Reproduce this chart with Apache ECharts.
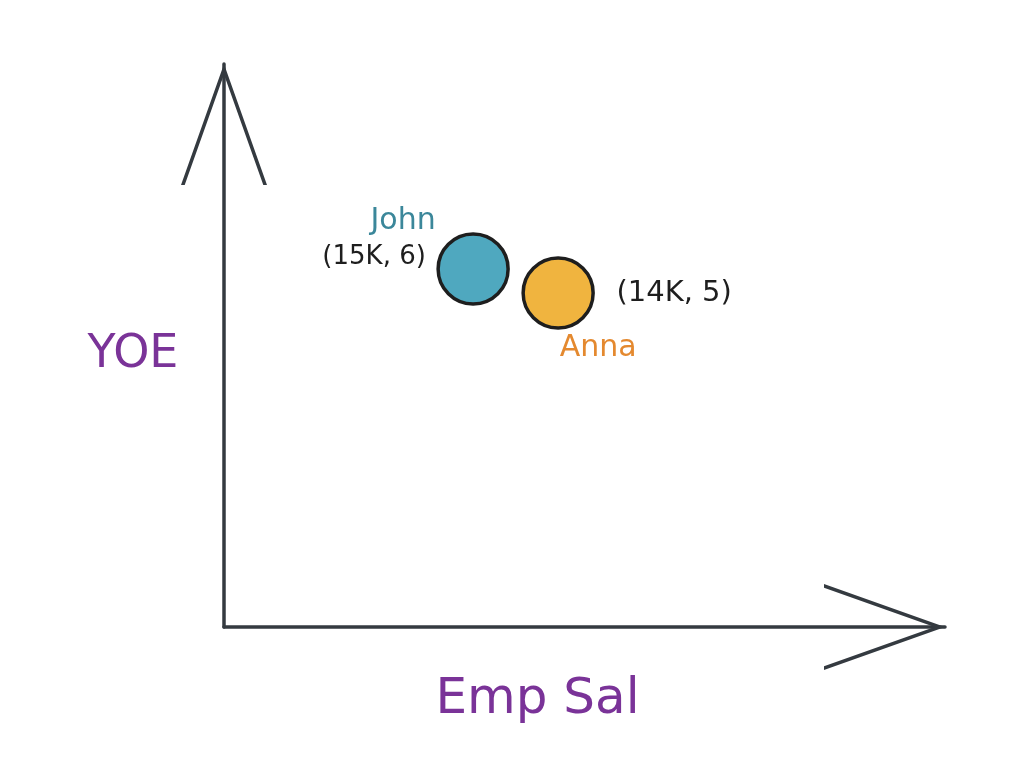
<!DOCTYPE html>
<html><head><meta charset="utf-8">
<script src="https://cdn.jsdelivr.net/npm/echarts@6/dist/echarts.min.js"></script>
<style>html,body{margin:0;padding:0;background:#fff}#chart{width:1018px;height:768px}</style>
</head><body><div id="chart"></div>
<script>
// ---- data ----
const names = ['John', 'Anna'];
const salaryK = [15, 14];
const yoe = [6, 5];
const xAxisName = 'Emp Sal';
const yAxisName = 'YOE';

// ---- styles ----
const FONT = 'DejaVu Sans';
const INK = '#1e1e1e';
const AXIS = '#343a40';
const PURPLE = '#7a3398';
const pointColors = ['#4fa8bf', '#f0b43f'];
const nameColors = ['#3b879a', '#e4892f'];
const coordOffsets = [[-99, -12], [116, 1]];
const coordSizes = [26, 29];
const nameOffsets = [[-70, -48], [40, 55]];

const chevron = 'path://M0 121 L43 0 L86 121 L82.3 121 L43 10.4 L3.7 121 Z';
const axisLine = {
  show: true, onZero: false,
  lineStyle: { color: AXIS, width: 3.5 },
  symbol: ['none', chevron],
  symbolSize: [86, 121],
  symbolOffset: [0, -60.5]
};

const pointData = names.map((n, i) => ({
  name: n,
  value: [salaryK[i], yoe[i]],
  itemStyle: { color: pointColors[i] },
  label: { offset: coordOffsets[i], fontSize: coordSizes[i] }
}));
const nameData = names.map((n, i) => ({
  name: n,
  value: [salaryK[i], yoe[i]],
  label: { offset: nameOffsets[i], color: nameColors[i] }
}));

const chart = echarts.init(document.getElementById('chart'), null, { renderer: 'canvas' });
chart.setOption({
  animation: false,
  backgroundColor: '#ffffff',
  grid: { left: 224, right: 73, top: 64, bottom: 141, containLabel: false },
  xAxis: {
    type: 'value', inverse: true, min: 9.45, max: 17.93,
    axisLine: axisLine, axisTick: { show: false }, axisLabel: { show: false }, splitLine: { show: false },
    name: xAxisName, nameLocation: 'middle', nameGap: 73,
    nameTextStyle: { color: PURPLE, fontFamily: FONT, fontSize: 50, align: 'center', verticalAlign: 'middle', padding: [0, 94, 0, 0] }
  },
  yAxis: {
    type: 'value', min: -8.92, max: 14.54,
    axisLine: axisLine, axisTick: { show: false }, axisLabel: { show: false }, splitLine: { show: false },
    name: '{n|' + yAxisName + '}', nameLocation: 'middle', nameRotate: 0, nameGap: 91,
    nameTextStyle: {
      color: PURPLE, fontFamily: FONT, fontSize: 46, align: 'center', verticalAlign: 'middle',
      rich: { n: { color: PURPLE, fontFamily: FONT, fontSize: 46, padding: [20, 0, 0, 0] } }
    }
  },
  series: [
    {
      type: 'scatter', name: 'points', data: pointData,
      symbol: 'circle', symbolSize: 70,
      itemStyle: { borderColor: INK, borderWidth: 3.5, opacity: 1 },
      label: {
        show: true, position: 'inside', color: INK, fontFamily: FONT,
        formatter: p => '(' + p.value[0] + 'K, ' + p.value[1] + ')'
      },
      emphasis: { disabled: true }, z: 3
    },
    {
      type: 'scatter', name: 'names', data: nameData,
      symbol: 'circle', symbolSize: 1, silent: true,
      itemStyle: { color: 'rgba(0,0,0,0)', opacity: 1 },
      label: { show: true, position: 'inside', fontFamily: FONT, fontSize: 30, formatter: p => p.name },
      emphasis: { disabled: true }, z: 4
    }
  ]
});
</script></body></html>
